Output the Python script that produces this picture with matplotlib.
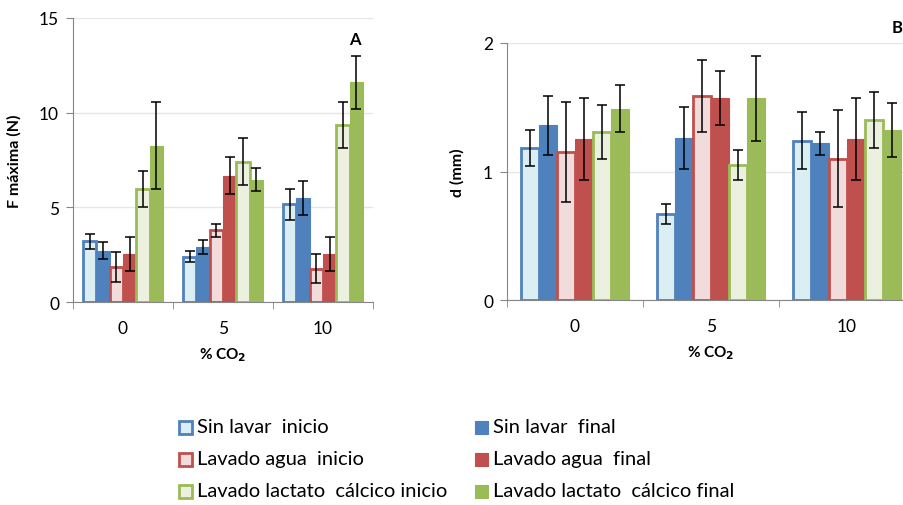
import matplotlib
matplotlib.use("Agg")
import matplotlib.pyplot as plt
from matplotlib.patches import Rectangle
import numpy as np

plt.rcParams['font.family'] = ['Lato', 'DejaVu Sans']

categories = ["0", "5", "10"]
series = ["Sin lavar  inicio", "Sin lavar  final",
          "Lavado agua  inicio", "Lavado agua  final",
          "Lavado lactato  cálcico inicio", "Lavado lactato  cálcico final"]

# Maximum force (N), per series, for 0/5/10 % CO2
f_max = [
    [3.2, 2.4, 5.15],
    [2.7, 2.9, 5.5],
    [1.85, 3.78, 1.76],
    [2.55, 6.68, 2.55],
    [5.98, 7.42, 9.35],
    [8.26, 6.47, 11.6],
]
f_err = [
    [0.4, 0.3, 0.82],
    [0.45, 0.35, 0.88],
    [0.78, 0.36, 0.75],
    [0.9, 1.0, 0.9],
    [0.95, 1.25, 1.23],
    [2.3, 0.6, 1.4],
]

# Deformation d (mm)
d_mm = [
    [1.18, 0.67, 1.24],
    [1.36, 1.26, 1.22],
    [1.15, 1.59, 1.10],
    [1.25, 1.57, 1.25],
    [1.31, 1.05, 1.40],
    [1.49, 1.57, 1.32],
]
d_err = [
    [0.14, 0.075, 0.22],
    [0.23, 0.24, 0.09],
    [0.39, 0.28, 0.38],
    [0.32, 0.21, 0.32],
    [0.21, 0.12, 0.22],
    [0.18, 0.33, 0.21],
]

edge_colors = ["#4F81BD", "#4F81BD", "#C0504D", "#C0504D", "#9BBB59", "#9BBB59"]
fill_colors = ["#DAEEF3", "#4F81BD", "#F2DCDB", "#C0504D", "#EBF1DE", "#9BBB59"]
is_open = [True, False, True, False, True, False]

W, H = 904, 506
fig = plt.figure(figsize=(W / 100, H / 100), dpi=100)


def px_axes(left, right, top, bottom):
    return fig.add_axes([left / W, 1 - bottom / H, (right - left) / W, (bottom - top) / H])


def draw_panel(ax, values, errors, ymax, yticks, ylabel):
    x = np.arange(len(categories))
    n = len(values)
    bw = 0.8 / n
    for i in range(n):
        pos = x - 0.4 + bw * (i + 0.5)
        lw = 2.0 if is_open[i] else 0.8
        ax.bar(pos, values[i], width=bw, color=fill_colors[i],
               edgecolor=edge_colors[i], linewidth=lw, zorder=2)
        ax.errorbar(pos, values[i], yerr=errors[i], fmt='none', ecolor='black',
                    elinewidth=1.1, capsize=3.5, capthick=1.1, zorder=3)
    ax.set_xlim(-0.5, 2.5)
    ax.set_ylim(0, ymax)
    ax.set_yticks(yticks)
    ax.set_yticklabels([str(t) for t in yticks])
    ax.set_xticks(x)
    ax.set_xticklabels(categories)
    ax.set_xticks([-0.5, 0.5, 1.5, 2.5], minor=True)
    ax.tick_params(axis='x', which='major', length=0, pad=13, labelsize=12.5)
    ax.tick_params(axis='x', which='minor', length=5, color='#868686', direction='out')
    ax.tick_params(axis='y', length=5, color='#868686', labelsize=12.5, pad=5)
    ax.yaxis.grid(True, color='#E6E6E6', linewidth=1, zorder=0)
    ax.set_axisbelow(True)
    for s in ['top', 'right']:
        ax.spines[s].set_visible(False)
    for s in ['left', 'bottom']:
        ax.spines[s].set_color('#868686')
    ax.set_ylabel(ylabel, fontsize=11.5, fontweight='bold')
    ax.set_xlabel("% CO$_\\mathbf{2}$", fontsize=11, fontweight='bold', labelpad=7)


axA = px_axes(73, 373, 19, 303)
draw_panel(axA, f_max, f_err, 15, [0, 5, 10, 15], "F máxima (N)")
axA.yaxis.set_label_coords(-0.17, 0.5)
fig.text(355 / W, 1 - 40 / H, "A", fontsize=12, fontweight='bold',
         ha='center', va='center')

axB = px_axes(507, 915, 44, 301)
draw_panel(axB, d_mm, d_err, 2, [0, 1, 2], "d (mm)")
axB.yaxis.set_label_coords(-0.105, 0.5)
fig.text(897 / W, 1 - 28 / H, "B", fontsize=12, fontweight='bold',
         ha='center', va='center')

# Legend: two columns (inicio / final), three rows
order = [0, 2, 4, 1, 3, 5]
col_x = [185.5, 481.5]
row_y = [428, 460, 492]
for k, i in enumerate(order):
    cx = col_x[k // 3]
    cy = row_y[k % 3]
    lw = 2.0 if is_open[i] else 0.8
    fig.add_artist(Rectangle(((cx - 6.5) / W, 1 - (cy + 6.5) / H), 13 / W, 13 / H,
                             transform=fig.transFigure, facecolor=fill_colors[i],
                             edgecolor=edge_colors[i], linewidth=lw))
    fig.text((cx + 12) / W, 1 - cy / H, series[i], fontsize=14.5,
             ha='left', va='center')

fig.savefig("out.png", dpi=100)
